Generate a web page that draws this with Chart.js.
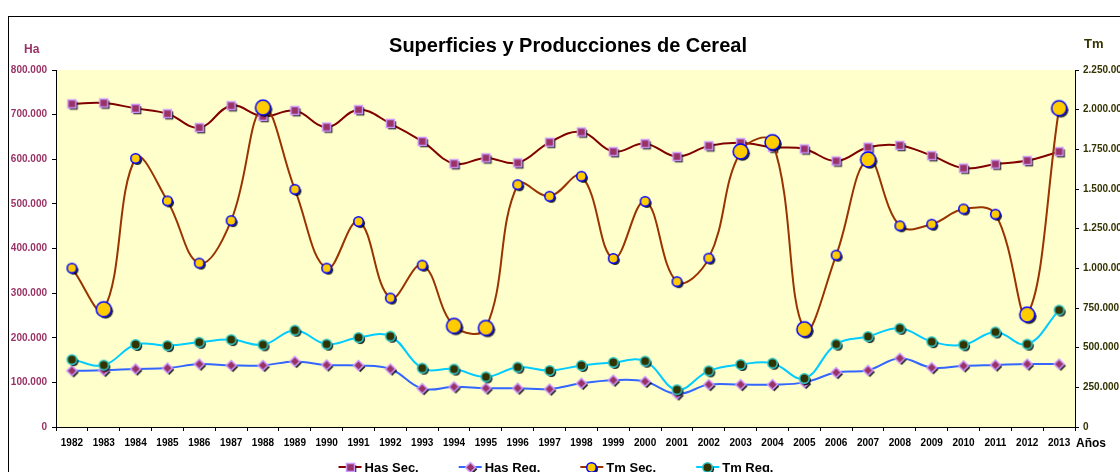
<!DOCTYPE html>
<html lang="es">
<head>
<meta charset="UTF-8">
<title>Superficies y Producciones de Cereal</title>
<script src="https://cdn.jsdelivr.net/npm/chart.js"></script>
<style>
  body { margin: 0; background: #fff; }
  canvas { display: block; }
</style>
</head>
<body>
<canvas id="cerealChart" width="1120" height="472"></canvas>
<script>
// data
const years = ['1982', '1983', '1984', '1985', '1986', '1987', '1988', '1989', '1990', '1991',
  '1992', '1993', '1994', '1995', '1996', '1997', '1998', '1999', '2000', '2001', '2002',
  '2003', '2004', '2005', '2006', '2007', '2008', '2009', '2010', '2011', '2012', '2013'];

// hectares, left axis
const hasSec = [724000, 726000, 714000, 702000, 671000, 720000, 696000, 709000, 672000, 711000,
  680000, 640000, 590000, 603000, 592000, 638000, 661000, 617000, 635000, 606000, 630000,
  637000, 627000, 623000, 596000, 627000, 631000, 608000, 580000, 589000, 597000, 617000];
const hasReg = [126000, 127000, 130000, 132000, 141000, 138000, 138000, 147000, 139000, 138000,
  130000, 86000, 90000, 87000, 87000, 85000, 98000, 105000, 102000, 74000, 95000,
  95000, 95000, 100000, 122000, 127000, 154000, 133000, 137000, 139000, 141000, 141000];

// tonnes, right axis
const tmSec = [1001000, 742000, 1693000, 1425000, 1033000, 1301000, 2013000, 1498000, 1001000, 1295000,
  813000, 1020000, 637000, 624000, 1527000, 1454000, 1580000, 1062000, 1422000, 916000, 1064000,
  1736000, 1795000, 616000, 1083000, 1686000, 1268000, 1278000, 1374000, 1341000, 708000, 2009000];
const tmReg = [425000, 390000, 520000, 513000, 534000, 551000, 518000, 610000, 522000, 564000,
  572000, 371000, 365000, 316000, 377000, 356000, 388000, 407000, 415000, 235000, 354000,
  394000, 402000, 306000, 522000, 570000, 622000, 538000, 518000, 599000, 522000, 737000];

const haTicks = { min: 0, max: 800000, step: 100000 };
const tmTicks = { min: 0, max: 2250000, step: 250000 };

// years whose Tm Sec. marker is drawn bigger in the original
const tmSecBig = ['1983', '1988', '1994', '1995', '2003', '2004', '2005', '2007', '2012', '2013'];

const FONT = 'Arial, "Liberation Sans", sans-serif';

function fmt(v) {
  return String(v).replace(/\B(?=(\d{3})+(?!\d))/g, '.');
}

// marker images with the little black drop shadow
function makeMarker(shape, size, fill, stroke) {
  const pad = 4;
  const dim = Math.ceil(size + pad * 2) | 1;
  const c = document.createElement('canvas');
  c.width = c.height = dim;
  const g = c.getContext('2d');
  const m = dim / 2;
  const r = size / 2;
  function path(x, y) {
    g.beginPath();
    if (shape === 'square') {
      g.rect(x - r, y - r, size, size);
    } else if (shape === 'diamond') {
      g.moveTo(x, y - r); g.lineTo(x + r, y); g.lineTo(x, y + r); g.lineTo(x - r, y); g.closePath();
    } else {
      g.arc(x, y, r, 0, Math.PI * 2);
    }
  }
  path(m + 1.8, m + 1.8);
  g.fillStyle = 'rgba(0,0,0,0.85)';
  g.fill();
  path(m, m);
  g.fillStyle = fill;
  g.fill();
  g.lineWidth = 1.5;
  g.strokeStyle = stroke;
  g.stroke();
  return c;
}

const mkSquare = makeMarker('square', 8, '#993366', '#CC99FF');
const mkDiamond = makeMarker('diamond', 10, '#993366', '#CC99FF');
const mkSunSmall = makeMarker('circle', 9.5, '#FFCC00', '#0000FF');
const mkSunBig = makeMarker('circle', 15, '#FFCC00', '#0000FF');
const mkDark = makeMarker('circle', 9.5, '#333300', '#33CCCC');

const decor = {
  id: 'decor',
  beforeDraw(chart) {
    const { ctx, chartArea: a } = chart;
    ctx.save();
    ctx.fillStyle = '#fff';
    ctx.fillRect(0, 0, chart.width, chart.height);
    ctx.fillStyle = '#FFFFCC';
    ctx.fillRect(a.left, a.top, a.right - a.left, a.bottom - a.top);
    ctx.strokeStyle = '#000';
    ctx.lineWidth = 1;
    ctx.strokeRect(8.5, 16.5, chart.width + 40, chart.height + 40);
    ctx.restore();
  },
  afterDraw(chart) {
    const ctx = chart.ctx;
    ctx.save();
    ctx.textBaseline = 'alphabetic';

    ctx.fillStyle = '#000';
    ctx.textAlign = 'center';
    ctx.font = 'bold 20px ' + FONT;
    ctx.fillText('Superficies y Producciones de Cereal', 568, 52);

    ctx.textAlign = 'left';
    ctx.font = 'bold 12px ' + FONT;
    ctx.fillStyle = '#993366';
    ctx.fillText('Ha', 24, 53);
    ctx.fillStyle = '#333300';
    ctx.font = 'bold 13px ' + FONT;
    ctx.fillText('Tm', 1084, 48);
    ctx.fillStyle = '#000';
    ctx.font = 'bold 12px ' + FONT;
    ctx.fillText('Años', 1076, 447);

    // legend: line + marker, then label
    ctx.font = 'bold 13px ' + FONT;
    const items = chart.data.datasets.map(ds => ({
      ds, w: 26 + ctx.measureText(ds.label).width
    }));
    const gap = 40;
    const total = items.reduce((s, it) => s + it.w, 0) + gap * (items.length - 1);
    let x = 556 - total / 2;
    const y = 467;
    items.forEach(it => {
      ctx.strokeStyle = it.ds.borderColor;
      ctx.lineWidth = 2;
      ctx.beginPath();
      ctx.moveTo(x, y);
      ctx.lineTo(x + 23, y);
      ctx.stroke();
      const img = it.ds.legendMarker;
      ctx.drawImage(img, Math.round(x + 11.5 - img.width / 2), Math.round(y - img.height / 2));
      ctx.fillStyle = '#000';
      ctx.fillText(it.ds.label, x + 26, 472);
      x += it.w + gap;
    });
    ctx.restore();
  }
};

new Chart(document.getElementById('cerealChart'), {
  type: 'line',
  data: {
    labels: years,
    datasets: [
      {
        label: 'Has Sec.',
        data: hasSec,
        yAxisID: 'yHa',
        borderColor: '#800000',
        borderWidth: 2,
        pointStyle: mkSquare,
        legendMarker: mkSquare,
        order: 3
      },
      {
        label: 'Has Reg.',
        data: hasReg,
        yAxisID: 'yHa',
        borderColor: '#3366FF',
        borderWidth: 2,
        pointStyle: mkDiamond,
        legendMarker: mkDiamond,
        order: 2
      },
      {
        label: 'Tm Sec.',
        data: tmSec,
        yAxisID: 'yTm',
        borderColor: '#993300',
        borderWidth: 2,
        pointStyle: ctx => tmSecBig.includes(years[ctx.dataIndex]) ? mkSunBig : mkSunSmall,
        legendMarker: mkSunSmall,
        order: 1
      },
      {
        label: 'Tm Reg.',
        data: tmReg,
        yAxisID: 'yTm',
        borderColor: '#00CCFF',
        borderWidth: 2,
        pointStyle: mkDark,
        legendMarker: mkDark,
        order: 0
      }
    ]
  },
  options: {
    responsive: false,
    animation: false,
    events: [],
    tension: 0.4,
    layout: { padding: { top: 70, left: 0, right: 0, bottom: 0 } },
    elements: {
      line: { tension: 0.4, fill: false },
      point: { radius: 5 }
    },
    plugins: {
      legend: { display: false },
      title: { display: false },
      tooltip: { enabled: false }
    },
    scales: {
      x: {
        offset: true,
        grid: { offset: true, drawOnChartArea: false, color: '#000', tickLength: 4 },
        border: { color: '#000', width: 1 },
        ticks: {
          color: '#000',
          padding: 6,
          maxRotation: 0,
          autoSkip: false,
          font: { family: FONT, size: 10, weight: 'bold' }
        },
        afterFit(scale) { scale.height = 45; }
      },
      yHa: {
        position: 'left',
        min: haTicks.min,
        max: haTicks.max,
        grid: { drawOnChartArea: false, color: '#000', tickLength: 4 },
        border: { color: '#000', width: 1 },
        ticks: {
          stepSize: haTicks.step,
          color: '#993366',
          padding: 5,
          font: { family: FONT, size: 10, weight: 'bold' },
          callback: v => fmt(v)
        },
        afterFit(scale) { scale.width = 56; }
      },
      yTm: {
        position: 'right',
        min: tmTicks.min,
        max: tmTicks.max,
        grid: { drawOnChartArea: false, color: '#000', tickLength: 4 },
        border: { color: '#000', width: 1 },
        ticks: {
          stepSize: tmTicks.step,
          color: '#333300',
          padding: 4,
          font: { family: FONT, size: 10, weight: 'bold' },
          callback: v => fmt(v)
        },
        afterFit(scale) { scale.width = 45; }
      }
    }
  },
  plugins: [decor]
});
</script>
</body>
</html>
